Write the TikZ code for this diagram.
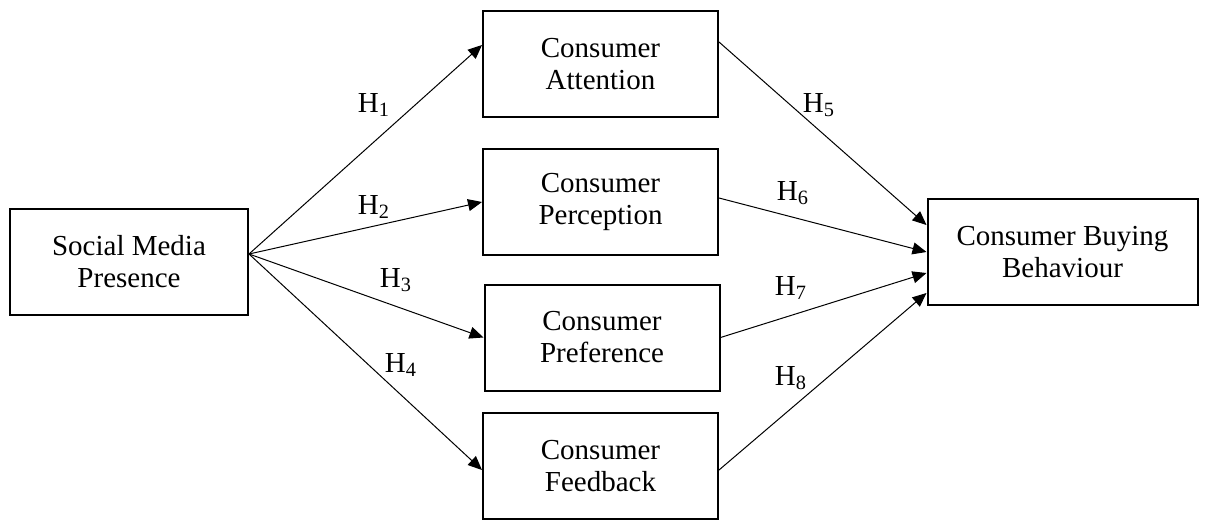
\documentclass[tikz,border=0pt]{standalone}
\usepackage{fontspec}
\setmainfont{Liberation Serif}
\usepackage{tikz}
\usetikzlibrary{arrows.meta}

\begin{document}
\begin{tikzpicture}[x=0.5pt,y=-0.5pt,
  box/.style={draw,line width=1pt,align=center,inner sep=0pt,
    minimum width=117.5pt,minimum height=53pt,font=\fontsize{14.5}{16}\selectfont},
  hyp/.style={font=\fontsize{14.5}{16}\selectfont,inner sep=0pt},
  link/.style={line width=0.5pt,-{Triangle[length=7pt,width=6pt]}}]
\useasboundingbox (0,0) rectangle (1208,520);

\node[box,minimum width=119pt] (smp) at (129,262) {Social Media\\Presence};
\node[box] (att) at (600.5,64) {Consumer\\Attention};
\node[box] (per) at (600.5,202) {Consumer\\Perception};
\node[box] (pre) at (602,337.5) {Consumer\\Preference};
\node[box] (fee) at (600.5,466) {Consumer\\Feedback};
\node[box,minimum width=135pt] (cbb) at (1062.5,252) {Consumer Buying\\Behaviour};

% social media -> consumer
\coordinate (src) at ([yshift=4pt]smp.east);
\draw[link] (src) -- ([yshift=9.5pt]att.west);
\draw[link] (src) -- (per.west);
\draw[link] (src) -- (pre.west);
\draw[link] (src) -- ([yshift=-2pt]fee.west);

% consumer -> buying behaviour
\draw[link] ([yshift=11pt]att.east) -- ([yshift=13.5pt]cbb.west);
\draw[link] ([yshift=2pt]per.east) -- (cbb.west);
\draw[link] (pre.east) -- ([yshift=-10.5pt]cbb.west);
\draw[link] ([yshift=-2pt]fee.east) -- ([yshift=-20.5pt]cbb.west);

\node[hyp] (h1) at (374,105) {H\textsubscript{1}};
\node[hyp] (h2) at (374,207) {H\textsubscript{2}};
\node[hyp] (h3) at (396,280) {H\textsubscript{3}};
\node[hyp] (h4) at (401,365) {H\textsubscript{4}};
\node[hyp] (h5) at (819,105) {H\textsubscript{5}};
\node[hyp] (h6) at (793,193) {H\textsubscript{6}};
\node[hyp] (h7) at (791,288) {H\textsubscript{7}};
\node[hyp] (h8) at (791,378) {H\textsubscript{8}};

\end{tikzpicture}
\end{document}
